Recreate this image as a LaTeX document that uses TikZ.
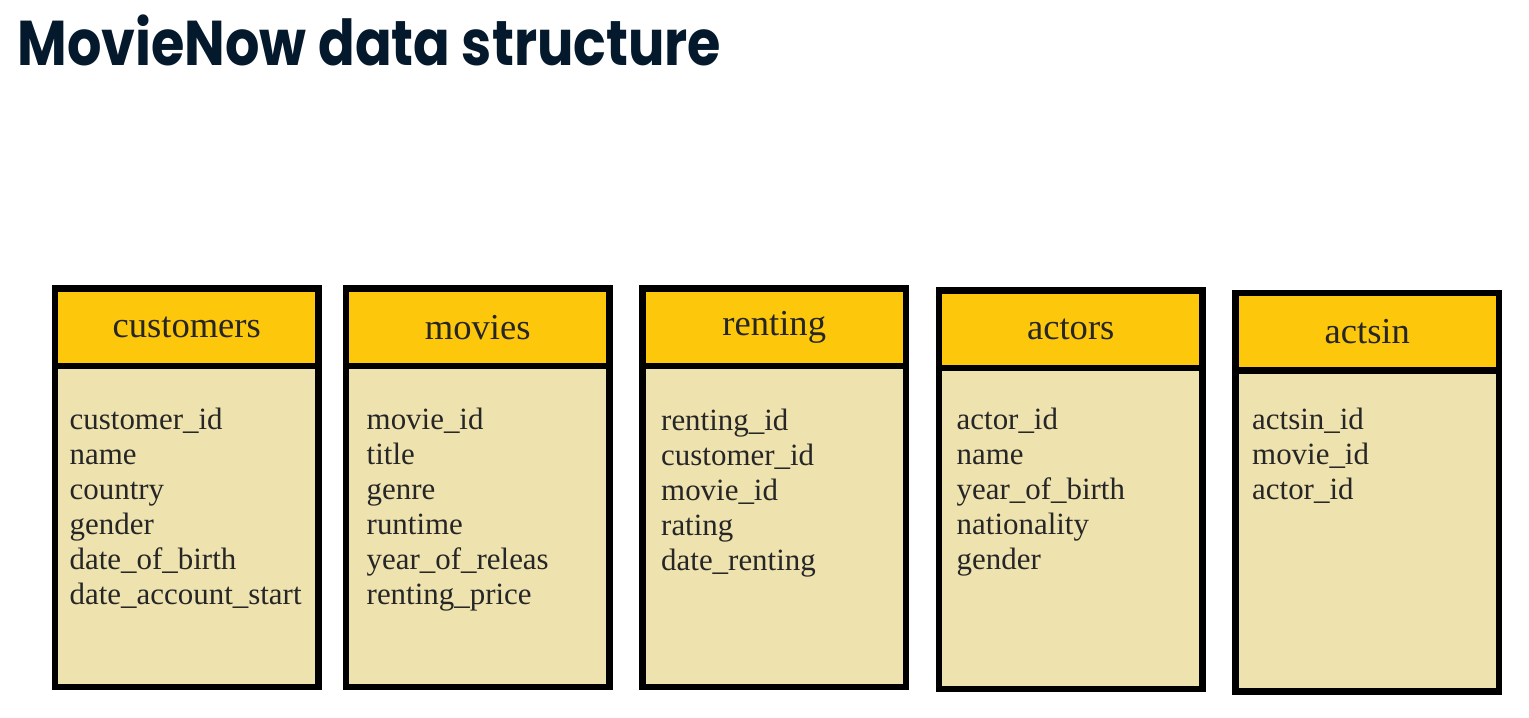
\documentclass[tikz,border=0pt]{standalone}
\usepackage{fontspec}
\setmainfont{Liberation Serif}
\newfontfamily\titlefont{Poppins}
\usetikzlibrary{positioning}
\definecolor{titleink}{HTML}{05192D}
\definecolor{hdryellow}{HTML}{FDC70C}
\definecolor{bodytan}{HTML}{EEE2AF}
\definecolor{fieldink}{HTML}{262626}

\begin{document}
\begin{tikzpicture}[x=0.1mm, y=-0.1mm, node distance=3.3mm,
    tblhead/.style={rectangle,draw=black,fill=hdryellow,line width=0.65mm,outer sep=0pt,minimum width=26.35mm,minimum height=7.75mm,font=\fontsize{10.4}{12}\selectfont,text=fieldink},
    tblbody/.style={rectangle,draw=black,fill=bodytan,line width=0.65mm,outer sep=0pt,minimum width=26.35mm,minimum height=32.1mm,below=0pt of #1},
    fields/.style={align=left,anchor=north west,inner sep=0pt,font=\fontsize{8.8}{9.96}\selectfont,text=fieldink},
    pagetitle/.style={anchor=base west,inner sep=0pt,text=titleink,font=\titlefont\bfseries\fontsize{18}{22}\selectfont,xscale=0.855,transform shape}]
    \useasboundingbox (0,0) rectangle (1529,717);
    \node[pagetitle] (title) at (17,65) {MovieNow data structure};
    % tables
    \node[tblhead] (cust-h) at (186.75,327.25) {customers};
    \node[tblhead,right=2.75mm of cust-h] (movie-h) {movies};
    \node[tblhead,right=of movie-h] (rent-h) {renting};
    \node[tblhead,right=of rent-h,yshift=-0.2mm] (actor-h) {actors};
    \node[tblhead,right=of actor-h,yshift=-0.25mm] (actsin-h) {actsin};
    \node[tblbody=cust-h] (cust-b) {};
    \node[tblbody=movie-h] (movie-b) {};
    \node[tblbody=rent-h] (rent-b) {};
    \node[tblbody=actor-h] (actor-b) {};
    \node[tblbody=actsin-h] (actsin-b) {};
    % columns
    \node[fields] (cust-f) at ([shift={(14,41)}]cust-b.north west) {customer\_id\\name\\country\\gender\\date\_of\_birth\\date\_account\_start};
    \node[fields] (movie-f) at ([shift={(20,41)}]movie-b.north west) {movie\_id\\title\\genre\\runtime\\year\_of\_releas\\renting\_price};
    \node[fields] (rent-f) at ([shift={(18,42)}]rent-b.north west) {renting\_id\\customer\_id\\movie\_id\\rating\\date\_renting};
    \node[fields] (actor-f) at ([shift={(17,39)}]actor-b.north west) {actor\_id\\name\\year\_of\_birth\\nationality\\gender};
    \node[fields] (actsin-f) at ([shift={(16,37)}]actsin-b.north west) {actsin\_id\\movie\_id\\actor\_id};
\end{tikzpicture}
\end{document}
